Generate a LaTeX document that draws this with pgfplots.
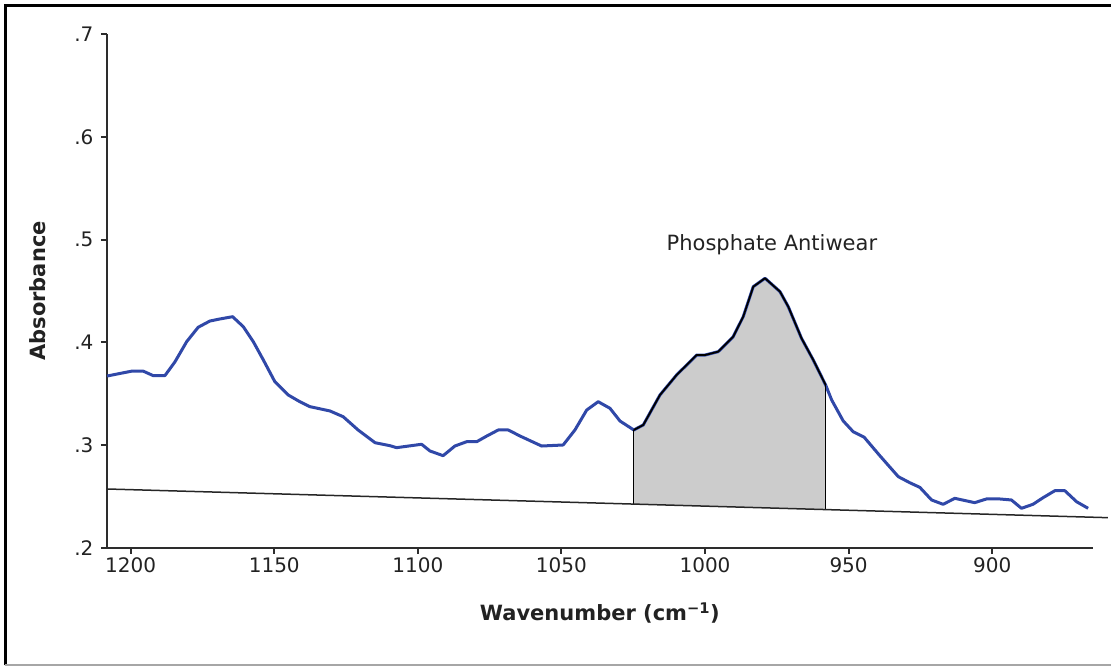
\documentclass[border=0pt]{standalone}
\usepackage{pgfplots}
\pgfplotsset{compat=1.18}
\usepackage{fontspec}
\setmainfont{DejaVu Sans}
\definecolor{specblue}{RGB}{48,72,168}
\definecolor{axisgray}{RGB}{45,45,45}
\definecolor{txt}{RGB}{34,34,34}
\begin{document}
\begin{tikzpicture}
\path[use as bounding box] (0,0) rectangle (1111pt,666pt);
\draw[line width=3pt,black] (4pt,660.7pt) -- (1111pt,660.7pt);
\draw[line width=3pt,black] (5.5pt,0.5pt) -- (5.5pt,662pt);
\draw[line width=1.5pt,black!35] (5pt,1.2pt) -- (1111pt,1.2pt);
\begin{axis}[
  at={(107pt,118pt)}, anchor=south west,
  scale only axis, width=985.7pt, height=514pt,
  x dir=reverse,
  xmin=865, xmax=1208.25, ymin=0.2, ymax=0.7,
  axis lines=left,
  axis line style={-, line width=1.9pt, axisgray},
  every tick/.style={line width=1.9pt, axisgray},
  tick align=outside, major tick length=6pt,
  xtick={1200,1150,1100,1050,1000,950,900},
  xticklabels={1200,1150,1100,1050,1000,950,900},
  ytick={0.2,0.3,0.4,0.5,0.6,0.7},
  yticklabels={.2,.3,.4,.5,.6,.7},
  tick label style={font=\fontsize{20}{22}\selectfont, text=txt},
  yticklabel style={xshift=-4pt},
  xlabel={Wavenumber (cm\textsuperscript{−1})},
  ylabel={Absorbance},
  xlabel style={at={(axis description cs:0.5,-0.1265)}, anchor=center, font=\fontsize{21}{24}\selectfont\bfseries, text=txt},
  ylabel style={at={(axis description cs:-0.070,0.5)}, anchor=center, font=\fontsize{21}{24}\selectfont\bfseries, text=txt},
  clip=false,
]
% shaded area
\addplot[draw=none, fill=black!20] coordinates {
(1024.8,0.2427) (1024.8,0.3148) (1021.5,0.3197) (1015.7,0.3488) (1009.9,0.3683)
(1002.9,0.3877) (1000.0,0.3877) (995.4,0.391) (990.2,0.4055) (986.7,0.425)
(983.2,0.4542) (979.1,0.4624) (973.9,0.4494) (971.0,0.4347) (966.4,0.404)
(962.3,0.3829) (958.0,0.3586) (958.0,0.2374)} -- cycle;
% spectrum
\addplot[specblue, line width=3pt, line join=round] coordinates {
(1208.2,0.3673) (1199.7,0.372) (1195.6,0.372) (1192.1,0.3676) (1188.1,0.3676)
(1184.6,0.381) (1180.5,0.4007) (1176.5,0.4147) (1172.4,0.4208) (1168.9,0.4228)
(1164.5,0.425) (1160.8,0.4153) (1157.3,0.4007) (1153.8,0.3829) (1149.8,0.3618)
(1145.1,0.3488) (1141.1,0.3423) (1137.6,0.3375) (1130.6,0.3333) (1126.0,0.3277)
(1120.8,0.3148) (1114.9,0.3024) (1109.7,0.2995) (1107.4,0.2976) (1098.7,0.3009)
(1095.8,0.2944) (1091.2,0.2898) (1087.1,0.2992) (1083.0,0.3034) (1079.5,0.3034)
(1076.0,0.3089) (1072.0,0.3148) (1068.5,0.3148) (1064.4,0.3089) (1056.9,0.2992)
(1049.4,0.3002) (1045.3,0.3148) (1041.2,0.3342) (1037.2,0.3423) (1033.1,0.3359)
(1029.6,0.3235) (1024.8,0.3148) (1021.5,0.3197) (1015.7,0.3488) (1009.9,0.3683)
(1002.9,0.3877) (1000.0,0.3877) (995.4,0.391) (990.2,0.4055) (986.7,0.425)
(983.2,0.4542) (979.1,0.4624) (973.9,0.4494) (971.0,0.4347) (966.4,0.404)
(962.3,0.3829) (958.0,0.3586) (955.9,0.344) (951.9,0.3237) (948.4,0.3131)
(944.6,0.3078) (939.1,0.2897) (932.7,0.2694) (928.7,0.2635) (925.2,0.259)
(921.1,0.2467) (917.1,0.2425) (913.0,0.2483) (906.1,0.2441) (902.0,0.2477)
(897.4,0.2477) (893.3,0.2467) (889.8,0.2386) (885.8,0.2425) (882.3,0.2489)
(878.2,0.2557) (874.7,0.2557) (870.6,0.245) (866.6,0.2386)};
% black overlay on the shaded peak
\addplot[black, line width=1.8pt, line join=round] coordinates {
(1024.8,0.3148) (1021.5,0.3197) (1015.7,0.3488) (1009.9,0.3683)
(1002.9,0.3877) (1000.0,0.3877) (995.4,0.391) (990.2,0.4055) (986.7,0.425)
(983.2,0.4542) (979.1,0.4624) (973.9,0.4494) (971.0,0.4347) (966.4,0.404)
(962.3,0.3829) (958.0,0.3586)};
\addplot[black, line width=1pt] coordinates {(1024.8,0.2427) (1024.8,0.3148)};
\addplot[black, line width=1pt] coordinates {(958.0,0.2374) (958.0,0.3586)};
% baseline
\addplot[black!85, line width=1.5pt] coordinates {(1208.25,0.2574) (859.7,0.2295)};
\node[font=\fontsize{21}{24}\selectfont, text=txt] at (axis cs:976.7,0.495) {Phosphate Antiwear};
\end{axis}
\end{tikzpicture}
\end{document}
